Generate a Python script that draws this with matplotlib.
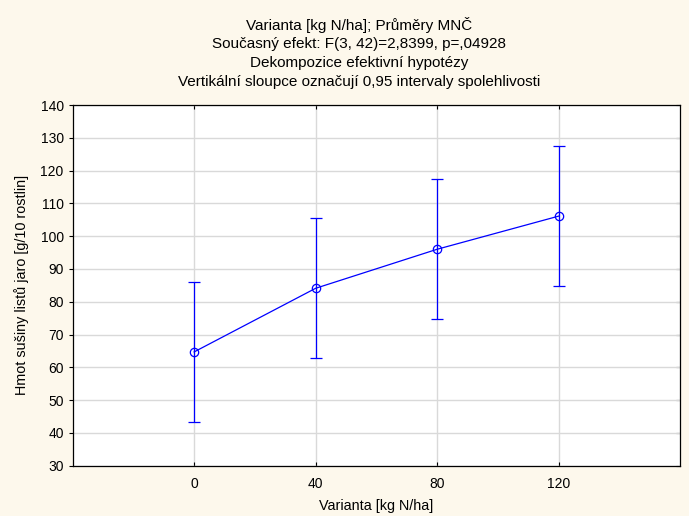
#!/usr/bin/env python3
"""
Varianta [kg N/ha] - means with 0.95 confidence intervals
"""

import numpy as np
import matplotlib
matplotlib.use("Agg")
import matplotlib.pyplot as plt

# ── colours ───────────────────────────────────────────────
C_LINE = "#0000FF"
C_BG   = "#FDF8EC"
C_GRID = "#D9D9D9"

# ── data ──────────────────────────────────────────────────
varianta = ["0", "40", "80", "120"]
means    = [64.7, 84.1, 96.0, 106.1]
ci_lo    = [43.4, 62.8, 74.7, 84.8]
ci_hi    = [86.0, 105.4, 117.3, 127.4]
y_ticks  = [30, 40, 50, 60, 70, 80, 90, 100, 110, 120, 130, 140]

title_lines = [
    "Varianta [kg N/ha]; Průměry MNČ",
    "Současný efekt: F(3, 42)=2,8399, p=,04928",
    "Dekompozice efektivní hypotézy",
    "Vertikální sloupce označují 0,95 intervaly spolehlivosti",
]

plt.rcParams["font.family"] = ["Liberation Sans", "DejaVu Sans"]

fig = plt.figure(figsize=(6.89, 5.16), dpi=100, facecolor=C_BG)
ax = fig.add_axes([0.1055, 0.0975, 0.8814, 0.699])
ax.set_facecolor("white")

x = np.arange(len(varianta))
m = np.array(means)
err = np.vstack([m - np.array(ci_lo), np.array(ci_hi) - m])

ax.errorbar(x, m, yerr=err, color=C_LINE, linewidth=0.9, elinewidth=0.9,
            capsize=4.3, capthick=0.9, marker="o", markersize=6,
            markerfacecolor="none", markeredgecolor=C_LINE, markeredgewidth=0.9,
            zorder=3)

ax.set_xlim(-1, 4)
ax.set_ylim(30, 140)
ax.set_xticks(x)
ax.set_xticklabels(varianta)
ax.set_yticks(y_ticks)

ax.grid(True, color=C_GRID, linewidth=1.0, zorder=0)
ax.set_axisbelow(True)

# ticks: inward on top/bottom/right, outward on the left
ax.tick_params(axis="x", direction="in", length=3, top=True, labelsize=10, pad=8)
ax.tick_params(axis="y", direction="out", length=3, left=True, right=False, labelsize=10)
ax_r = ax.secondary_yaxis("right")
ax_r.set_yticks(y_ticks)
ax_r.tick_params(direction="in", length=3, labelright=False)
ax_r.spines["right"].set_visible(False)

for s in ax.spines.values():
    s.set_color("black")
    s.set_linewidth(0.9)

ax.set_xlabel("Varianta [kg N/ha]", fontsize=10.4, labelpad=6)
ax.set_ylabel("Hmot sušiny listů jaro [g/10 rostlin]", fontsize=10.4, labelpad=8)

# title block, one text per line
for i, line in enumerate(title_lines):
    fig.text(0.521, 1 - (25 + 19 * i) / 516, line, ha="center", va="center",
             fontsize=11)

fig.savefig("out.png", dpi=100, facecolor=C_BG)
